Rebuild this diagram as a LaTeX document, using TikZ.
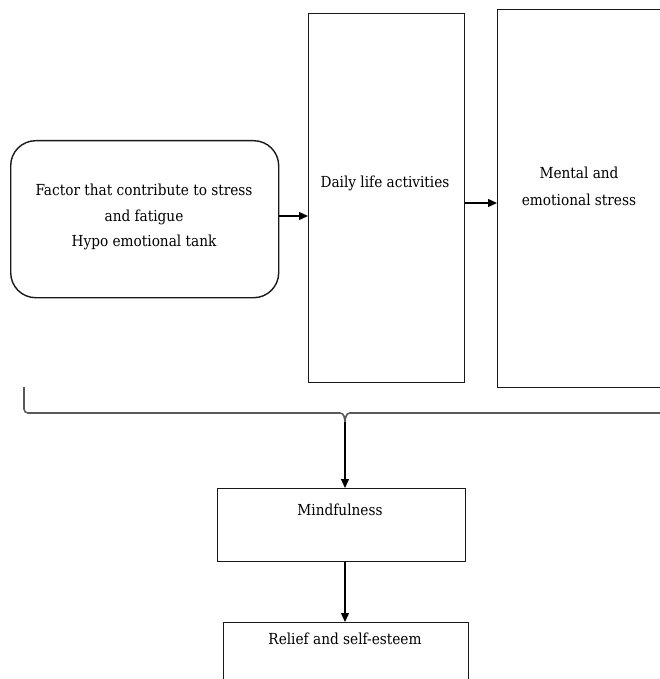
\documentclass[tikz,border=0pt]{standalone}
\usepackage{fontspec}
\setmainfont{DejaVu Serif Condensed}
\usetikzlibrary{arrows.meta}
\begin{document}
\begin{tikzpicture}[x=1pt,y=-1pt,
  box/.style={draw=black!90,line width=1.4pt,inner sep=0pt,anchor=north west},
  txt/.style={inner sep=0pt,align=center,font=\fontsize{15.2}{25.5}\selectfont,text=black},
  conn/.style={draw=black,line width=1.3pt,-{Triangle[length=9pt,width=8pt]}},
  brace/.style={draw=black!65,line width=1.6pt}]
\useasboundingbox (0,0) rectangle (660,679);
% boxes
\node[box,rounded corners=25pt,minimum width=268pt,minimum height=157pt] (factor) at (10,140) {};
\node[box,minimum width=156pt,minimum height=369pt] (daily) at (308,13) {};
\node[box,minimum width=180pt,minimum height=378pt] (mental) at (497,9) {};
\node[box,minimum width=248pt,minimum height=73pt] (mind) at (217,488) {};
\node[box,minimum width=245pt,minimum height=80pt] (relief) at (223,622) {};
% texts
\node[txt] (tfactor) at (144,217) {Factor that contribute to stress\\and fatigue\\Hypo emotional tank};
\node[txt] (tdaily) at (385,183) {Daily life activities};
\node[txt,font=\fontsize{15.2}{27}\selectfont] (tmental) at (579,186) {Mental and\\emotional stress};
\node[txt] (tmind) at (340,510) {Mindfulness};
\node[txt] (trelief) at (345,639) {Relief and self-esteem};
% arrows
\draw[conn] (factor.east |- 0,216) -- (daily.west |- 0,216);
\draw[conn] (daily.east |- 0,203) -- (mental.west |- 0,203);
% brace
\coordinate (bl) at (24,387);
\coordinate (br) at (680,413);
\coordinate (tip) at (345,422);
\draw[brace] (bl) -- (24,409) to[out=-90,in=180] (28,413) -- (340,413) to[out=0,in=95] (tip);
\draw[brace] (br) -- (350,413) to[out=180,in=85] (tip);
\draw[conn] (tip) -- (tip |- mind.north);
\draw[conn] (mind.south -| 345,0) -- (relief.north -| 345,0);
\end{tikzpicture}
\end{document}
